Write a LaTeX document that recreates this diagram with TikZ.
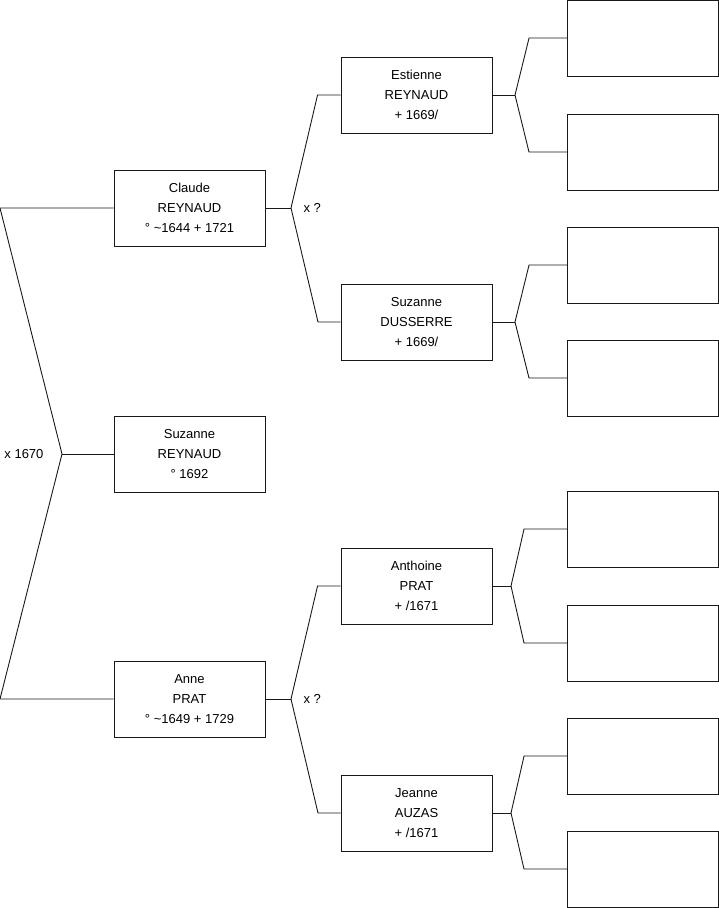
\documentclass[tikz,border=0pt]{standalone}
\usepackage{fontspec}
\setmainfont{Liberation Sans}
\usepackage{tikz}
\definecolor{boxline}{RGB}{25,25,25}

\begin{document}
\begin{tikzpicture}[
  x=1pt, y=-1pt,
  font=\fontsize{13}{20}\selectfont,
  box/.style={draw=boxline, line width=0.9pt, minimum width=151pt, minimum height=76pt,
              inner sep=0pt, align=center},
  link/.style={line width=0.9pt, color=boxline}
]
\useasboundingbox (0,0) rectangle (719,908);

% generation 1 and 2
\node[box] (claude)  at (189.5,208) {Claude\\REYNAUD\\° \textasciitilde1644 + 1721};
\node[box] (suzanne) at (189.5,454) {Suzanne\\REYNAUD\\° 1692};
\node[box] (anne)    at (189.5,699) {Anne\\PRAT\\° \textasciitilde1649 + 1729};

% generation 3
\node[box] (estienne) at (416.5,95)  {Estienne\\REYNAUD\\+ 1669/};
\node[box] (dusserre) at (416.5,322) {Suzanne\\DUSSERRE\\+ 1669/};
\node[box] (anthoine) at (416.5,586) {Anthoine\\PRAT\\+ /1671};
\node[box] (jeanne)   at (416.5,813) {Jeanne\\AUZAS\\+ /1671};

% generation 4 (empty)
\node[box] (e1) at (643,38)  {};
\node[box] (e2) at (643,152) {};
\node[box] (e3) at (643,265) {};
\node[box] (e4) at (643,378) {};
\node[box] (e5) at (643,529) {};
\node[box] (e6) at (643,643) {};
\node[box] (e7) at (643,756) {};
\node[box] (e8) at (643,869) {};

% fork points
\coordinate (topend) at (0,208);
\coordinate (botend) at (0,699);
\coordinate (f0) at (62,454);
\coordinate (f1) at (291,208);
\coordinate (f2) at (291,699);
\coordinate (f3) at (515,95);
\coordinate (f4) at (515,322);
\coordinate (f5) at (511,586);
\coordinate (f6) at (511,813);

\node[anchor=east] (m0) at (f0) [xshift=-15pt] {x 1670};
\node[anchor=west] (m1) at (f1) [xshift=9pt] {x ?};
\node[anchor=west] (m2) at (f2) [xshift=9pt] {x ?};

\draw[link] (claude.west) -- (topend) -- (f0) -- (botend) -- (anne.west);
\draw[link] (f0) -- (suzanne.west);

\draw[link] (claude.east) -- (f1);
\draw[link] (estienne.west) -- ++(-23,0) -- (f1) -- (318,322) -- (dusserre.west);
\draw[link] (anne.east) -- (f2);
\draw[link] (anthoine.west) -- ++(-23,0) -- (f2) -- (318,813) -- (jeanne.west);

\draw[link] (estienne.east) -- (f3);
\draw[link] (e1.west) -- ++(-38,0) -- (f3) -- (529,152) -- (e2.west);
\draw[link] (dusserre.east) -- (f4);
\draw[link] (e3.west) -- ++(-38,0) -- (f4) -- (529,378) -- (e4.west);
\draw[link] (anthoine.east) -- (f5);
\draw[link] (e5.west) -- ++(-43,0) -- (f5) -- (524,643) -- (e6.west);
\draw[link] (jeanne.east) -- (f6);
\draw[link] (e7.west) -- ++(-43,0) -- (f6) -- (524,869) -- (e8.west);

\end{tikzpicture}
\end{document}
